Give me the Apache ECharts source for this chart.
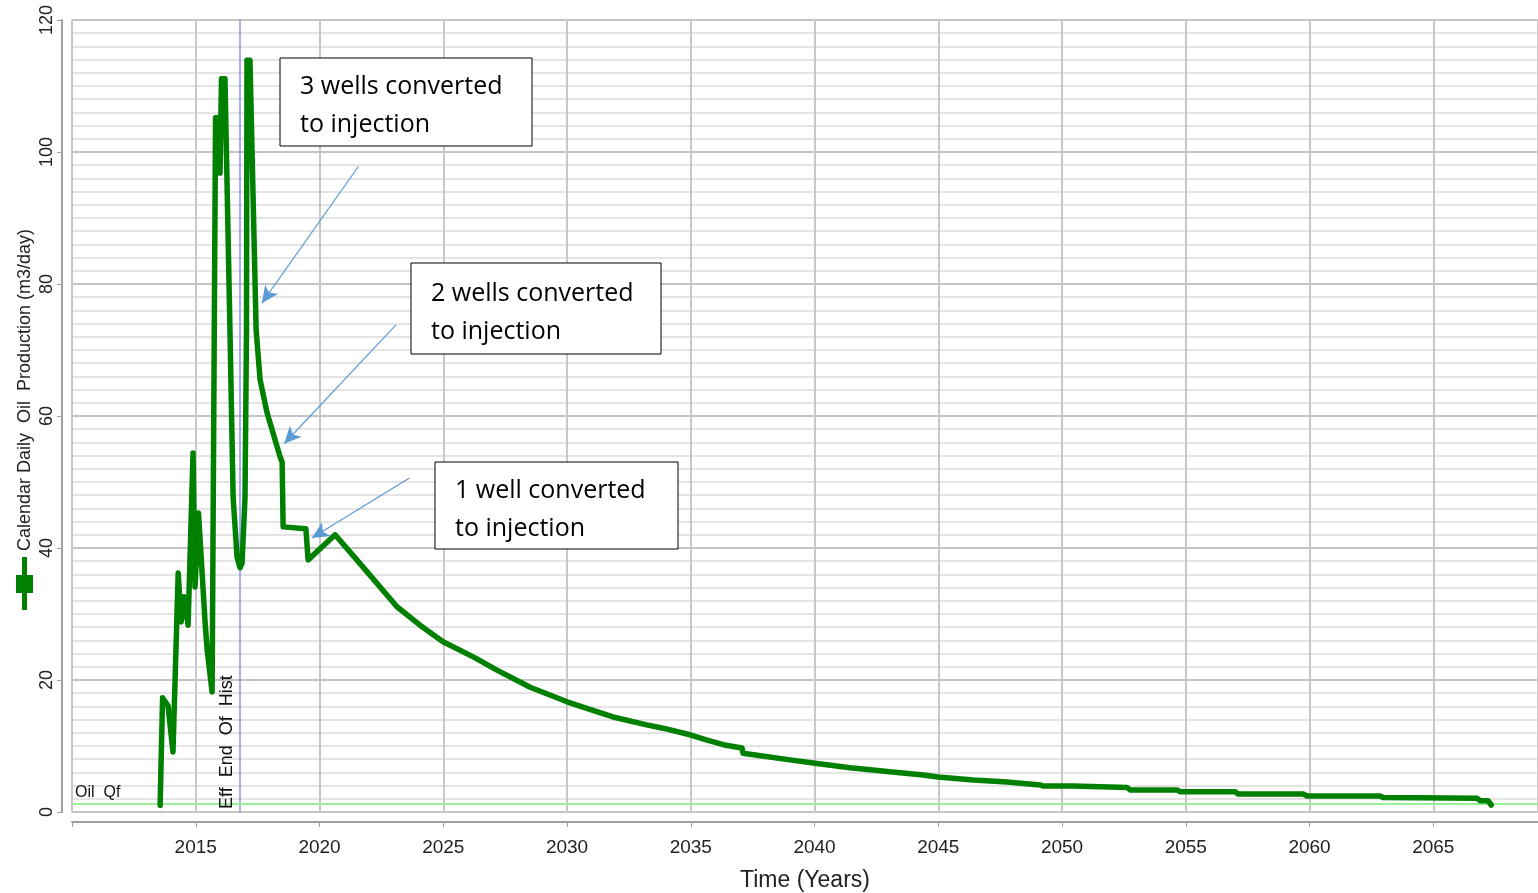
<!DOCTYPE html>
<html>
<head>
<meta charset="utf-8">
<script src="https://cdn.jsdelivr.net/npm/echarts@6/dist/echarts.min.js"></script>
<style>
html,body{margin:0;padding:0;background:#fff;}
#chart{width:1538px;height:893px;}
</style>
</head>
<body>
<div id="chart"></div>
<script>
// ---- data ----
const years = [
 2013.56, 2013.66, 2013.88, 2014.08, 2014.29, 2014.41, 2014.53, 2014.69, 2014.89, 2014.97,
 2015.11, 2015.38, 2015.46, 2015.66, 2015.80, 2015.94, 2015.98, 2016.04, 2016.18, 2016.39,
 2016.51, 2016.67, 2016.79, 2016.87, 2016.99, 2017.05, 2017.07, 2017.19, 2017.44, 2017.60,
 2017.88, 2018.41, 2018.49, 2018.53, 2019.45, 2019.48, 2019.54, 2020.63, 2021.76,
 2023.13, 2024.06, 2024.99, 2026.21, 2027.17, 2028.51, 2030.00, 2031.20, 2031.86, 2033.22,
 2033.88, 2034.97, 2035.66, 2036.31, 2037.07,
 2037.11, 2037.68, 2039.01, 2040.02, 2041.44, 2043.05, 2044.39, 2044.99, 2046.41, 2047.78,
 2049.11, 2049.23, 2050.45, 2052.63, 2052.75, 2054.65, 2054.77, 2056.99, 2057.11, 2059.74,
 2059.90, 2062.85, 2062.97, 2066.77, 2066.89, 2067.21, 2067.34
];
const oilRate = [
 1.0, 17.3, 16.1, 9.1, 36.2, 28.8, 32.6, 28.3, 54.4, 34.1,
 45.3, 28.6, 24.6, 18.2, 105.2, 105.2, 96.8, 111.1, 111.1, 71.5,
 47.7, 38.6, 37.0, 37.7, 47.7, 73.0, 113.9, 113.9, 73.0, 65.5,
 60.5, 53.8, 53.0, 43.2, 42.9, 43.0, 38.2, 42.0, 37.1,
 31.1, 28.3, 25.8, 23.5, 21.5, 18.9, 16.7, 15.2, 14.4, 13.2,
 12.7, 11.7, 10.9, 10.2, 9.7,
 8.9, 8.6, 7.9, 7.4, 6.7, 6.1, 5.6, 5.3, 4.85, 4.55,
 4.1, 3.94, 3.94, 3.71, 3.33, 3.33, 3.08, 3.08, 2.73, 2.73,
 2.42, 2.42, 2.2, 2.08, 1.71, 1.71, 1.06
];
const xTicks = [2015, 2020, 2025, 2030, 2035, 2040, 2045, 2050, 2055, 2060, 2065];
const yTicks = [0, 20, 40, 60, 80, 100, 120];
const endOfHistory = 2016.76;
const oilQf = 1.3;
// arrows: [fromYear, fromRate, toYear, toRate]
const arrows = [
 [2021.57, 97.8, 2017.67, 77.1],
 [2023.09, 73.8, 2018.57, 55.8],
 [2023.63, 50.6, 2019.69, 41.5]
];
const notes = ['3 wells converted\nto injection', '2 wells converted\nto injection', '1 well converted\nto injection'];

const seriesData = years.map((y, i) => [y, oilRate[i]]);

const chart = echarts.init(document.getElementById('chart'));
const SANS = '"Liberation Sans", Arial, sans-serif';
const NOTE = '"Open Sans", sans-serif';

function noteBox(x, y, w, h, text) {
  return {
    type: 'group', x: x, y: y, z: 100,
    children: [
      {type: 'rect', z: 100, shape: {x: 0, y: 0, width: w, height: h}, style: {fill: '#fff', stroke: '#000', lineWidth: 1}},
      {type: 'text', z: 101, x: 20, y: h / 2 + 4, style: {text: text, fill: '#000', font: '25px ' + NOTE, lineHeight: 38, verticalAlign: 'middle', align: 'left'}}
    ]
  };
}

const option = {
  animation: false,
  backgroundColor: '#fff',
  grid: {left: 72, top: 20, right: 0, bottom: 81, containLabel: false, outerBoundsMode: 'none'},
  xAxis: {
    type: 'value', min: 2010, max: 2069.23, interval: 5,
    offset: 10,
    name: 'Time (Years)', nameLocation: 'middle', nameGap: 47,
    nameTextStyle: {fontFamily: SANS, fontSize: 23, color: '#222'},
    axisLine: {show: true, onZero: false, lineStyle: {color: '#a0a0a0', width: 2}},
    axisTick: {show: true, length: 5, lineStyle: {color: '#a0a0a0', width: 1}},
    axisLabel: {
      showMaxLabel: false, margin: 16, fontFamily: SANS, fontSize: 19, color: '#222',
      formatter: v => xTicks.indexOf(Math.round(v)) >= 0 ? String(Math.round(v)) : ''
    },
    splitLine: {show: true, lineStyle: {color: '#c8c8c8', width: 2}}
  },
  yAxis: {
    type: 'value', min: 0, max: 120, interval: 20,
    offset: 10,
    axisLine: {show: true, lineStyle: {color: '#a0a0a0', width: 2}},
    axisTick: {show: true, length: 5, lineStyle: {color: '#a0a0a0', width: 1}},
    axisLabel: {
      rotate: 90, margin: 6, fontFamily: '"Liberation Sans Narrow", ' + SANS, fontSize: 18, color: '#222',
      formatter: v => yTicks.indexOf(v) >= 0 ? String(v) : ''
    },
    splitLine: {show: true, lineStyle: {color: '#c4c4c4', width: 2}},
    minorTick: {show: false, splitNumber: 10},
    minorSplitLine: {show: true, lineStyle: {color: '#e4e4e4', width: 2}}
  },
  series: [
    {
      type: 'line',
      data: seriesData,
      showSymbol: false,
      symbol: 'none',
      z: 5,
      lineStyle: {color: '#008000', width: 5.5, join: 'round', cap: 'round'},
      markLine: {
        silent: true,
        symbol: ['none', 'none'],
        z: 3,
        data: [
          {xAxis: endOfHistory,
           lineStyle: {color: '#8c8cff', width: 1.5, type: 'solid'},
           label: {show: true, formatter: 'Eff  End  Of  Hist', position: 'insideStartTop',
                   distance: 3, color: '#111', fontFamily: SANS, fontSize: 18}},
          {yAxis: oilQf,
           lineStyle: {color: '#98f098', width: 2, type: 'solid'},
           label: {show: true, formatter: 'Oil  Qf', position: 'insideStartTop',
                   distance: 3, color: '#111', fontFamily: SANS, fontSize: 16}}
        ]
      }
    },
    {
      type: 'line',
      data: [],
      z: 20,
      markLine: {
        silent: true,
        z: 20,
        symbol: ['none', 'arrow'],
        symbolSize: [12, 17],
        label: {show: false},
        lineStyle: {color: '#5b9bd5', width: 1.2, type: 'solid'},
        data: arrows.map(a => [{coord: [a[0], a[1]]}, {coord: [a[2], a[3]]}])
      }
    }
  ],
  graphic: [
    {type: 'text', x: 25, y: 390, rotation: Math.PI / 2,
     style: {text: 'Calendar Daily  Oil  Production (m3/day)', fill: '#222', font: '18px ' + SANS, align: 'center', verticalAlign: 'middle'}},
    {type: 'rect', shape: {x: 22, y: 557, width: 5, height: 53}, style: {fill: '#008000'}},
    {type: 'rect', shape: {x: 16, y: 575, width: 17, height: 18}, style: {fill: '#008000'}},
    noteBox(280, 58, 252, 88, notes[0]),
    noteBox(411, 263, 250, 91, notes[1]),
    noteBox(435, 462, 243, 87, notes[2])
  ]
};
chart.setOption(option);
</script>
</body>
</html>
